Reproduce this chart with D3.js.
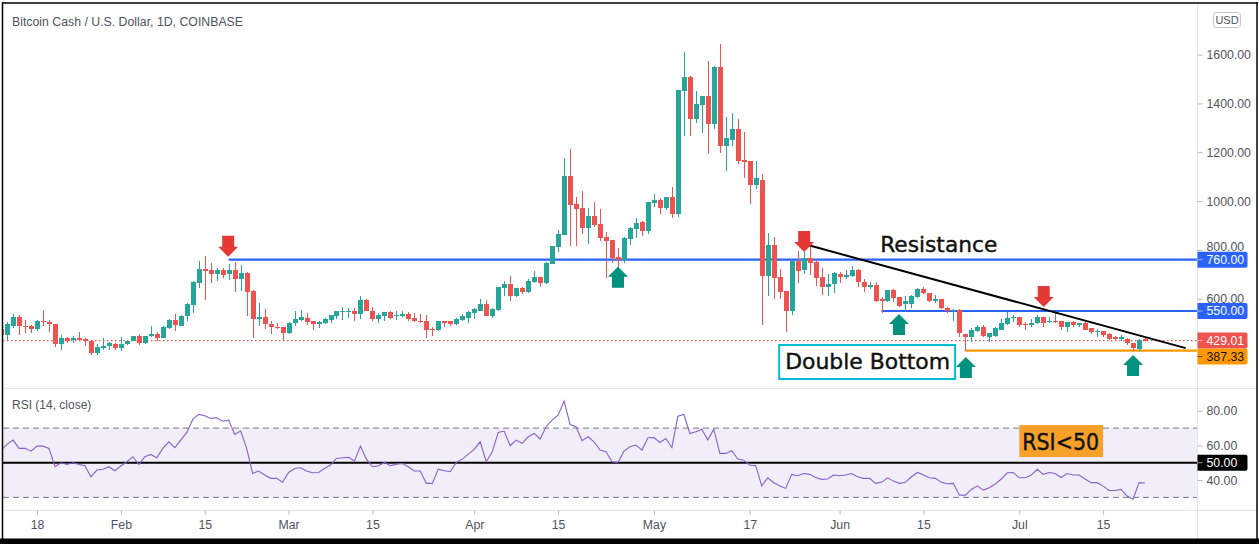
<!DOCTYPE html>
<html><head><meta charset="utf-8">
<script src="https://cdn.jsdelivr.net/npm/d3@7"></script>
<style>
html,body{margin:0;padding:0;background:#fff;overflow:hidden;}
svg{display:block;}
</style></head>
<body>
<svg id="c" width="1259" height="544"></svg>
<script>
// ---------- DATA ----------
const startDate = "2021-01-12"; // first daily candle
const opens = [
476,450,490,527,490,490,476,510,506,498,
414,441,430,441,436,429,377,400,406,415,
398,413,426,449,418,446,457,441,482,514,
490,528,574,666,721,718,703,718,703,718,
679,707,632,516,527,498,486,486,459,502,
515,523,507,496,499,515,528,545,545,552,
536,596,552,519,528,544,529,529,536,523,
511,511,475,471,507,507,495,515,523,540,
552,580,528,556,645,661,613,645,629,669,
690,665,742,811,860,1103,990,973,888,941,
908,852,840,771,759,844,885,913,877,993,
1003,972,1015,947,1451,1508,1337,1394,1430,1316,
1548,1227,1251,1296,1170,1166,1064,1088,693,820,
689,632,551,756,719,768,752,691,650,660,
701,688,694,718,670,647,656,599,592,636,
606,578,578,609,639,625,589,599,561,551,
554,456,442,469,486,445,447,472,497,521,
524,497,492,499,524,505,510,510,486,505,
492,499,479,464,468,456,442,434,434,417,
393,434];
const highs = [
478,503,539,533,514,494,514,555,514,498,
453,442,446,465,438,429,414,441,422,417,
444,433,449,457,449,490,463,490,517,539,
535,582,673,755,775,745,726,726,742,750,
738,710,636,581,558,509,501,486,506,552,
556,540,507,509,523,532,548,568,564,561,
610,600,568,540,544,548,552,552,544,540,
536,532,483,511,511,507,523,536,548,564,
600,596,564,649,673,694,645,649,682,714,
690,750,815,880,1176,1213,1018,1042,973,998,
969,872,840,807,852,892,931,917,995,1031,
1011,1015,1056,1455,1610,1512,1451,1430,1573,1555,
1642,1345,1361,1337,1284,1166,1166,1113,869,852,
722,632,760,797,793,813,760,725,700,708,
708,718,734,720,679,667,667,609,636,639,
609,611,615,643,649,625,615,599,565,559,
557,456,479,492,492,461,483,516,547,533,
524,506,516,533,527,524,547,510,505,507,
502,505,479,475,469,458,447,452,438,420,
434,438];
const lows = [
433,433,480,450,460,460,468,487,465,403,
389,419,419,427,408,369,369,392,389,389,
385,410,426,410,415,444,429,438,476,468,
487,508,541,646,596,666,674,687,677,626,
632,529,441,487,476,455,476,426,455,490,
509,492,471,479,496,499,519,515,523,507,
519,548,511,499,507,519,515,526,511,503,
499,438,448,467,483,487,491,507,499,519,
548,528,523,552,613,592,609,621,625,665,
649,661,742,791,860,815,815,864,823,896,
836,686,747,714,747,819,848,858,864,976,
946,962,931,935,1268,1268,1320,1280,1194,1296,
1198,1125,1227,1154,1093,987,1048,494,612,600,
600,466,535,666,703,699,654,615,613,622,
663,680,690,649,629,640,588,540,588,588,
565,544,561,602,619,585,581,557,543,510,
445,387.33,424,465,445,424,442,472,492,506,
483,472,486,495,483,499,499,472,465,486,
486,472,456,442,445,431,428,428,411,385,
387,427];
const closes = [
453,498,527,487,486,476,510,503,497,414,
441,429,441,430,429,376,403,408,419,398,
413,427,449,418,449,457,441,484,514,491,
531,579,670,721,714,703,718,699,718,679,
707,626,516,527,498,483,482,459,502,519,
525,505,495,505,519,532,548,548,552,536,
596,548,519,532,544,523,533,536,519,507,
507,471,471,507,499,495,519,528,544,560,
580,528,560,649,661,613,645,629,673,690,
665,746,815,864,1103,986,969,888,941,904,
848,836,767,759,848,888,911,877,995,1003,
972,1015,947,1455,1508,1337,1398,1430,1316,1548,
1227,1259,1296,1166,1162,1064,1093,693,820,685,
628,551,756,715,768,748,687,650,662,704,
688,697,718,670,647,656,592,592,636,602,
572,592,611,639,625,589,599,561,551,556,
458,442,472,486,447,458,479,502,521,527,
492,492,501,524,502,510,507,483,505,492,
499,472,462,468,452,434,434,442,417,397,
431,429.01];
const rsiValues = [
57.3,60.6,63.1,58.3,58.3,56.7,59.6,59.6,58.3,47.7,
50.0,49.0,50.0,49.0,48.3,41.9,45.8,46.2,47.7,45.4,
48.1,50.6,53.5,49.0,53.5,54.8,52.9,58.3,62.1,58.7,
63.1,67.5,75.0,77.9,77.1,75.6,76.0,74.0,74.6,66.3,
68.3,58.3,43.8,45.2,42.9,41.0,41.0,38.7,44.4,46.7,
47.1,45.2,44.2,44.4,46.7,48.7,52.5,52.9,53.1,51.0,
59.6,52.1,47.7,48.3,50.2,48.3,49.2,49.6,47.7,45.2,
45.2,38.1,38.1,46.3,45.4,44.8,50.2,52.1,55.0,57.7,
62.1,50.6,56.3,67.5,68.3,59.8,63.1,61.2,65.0,66.9,
63.7,70.8,74.6,77.5,85.6,72.1,70.8,62.7,65.0,62.1,
57.3,56.3,50.6,50.2,56.7,59.2,60.2,57.3,64.4,64.6,
61.7,64.0,58.7,76.9,77.9,66.9,67.9,69.4,63.1,69.4,
55.4,55.4,56.9,52.1,51.5,48.7,48.3,36.7,41.3,38.5,
36.7,35.2,43.3,42.5,43.8,43.3,41.5,40.4,40.6,42.9,
42.5,42.9,43.8,41.9,41.0,41.0,38.1,38.7,41.3,39.4,
38.1,38.7,41.9,44.4,42.9,41.3,41.0,38.7,37.9,38.1,
31.3,31.3,34.6,36.7,34.2,35.6,37.7,40.6,44.2,44.4,
41.3,41.3,42.9,46.2,43.3,44.4,43.8,41.5,43.8,42.9,
42.9,40.6,38.5,38.5,36.5,34.0,34.0,34.6,30.8,29.0,
38.5,38.3];

const xTickDates  = ["2021-01-18","2021-02-01","2021-02-15","2021-03-01","2021-03-15","2021-04-01","2021-04-15","2021-05-01","2021-05-17","2021-06-01","2021-06-15","2021-07-01","2021-07-15"];
const xTickLabels = ["18","Feb","15","Mar","15","Apr","15","May","17","Jun","15","Jul","15"];
const priceTicks = [600, 800, 1000, 1200, 1400, 1600];
const rsiTicks = [40, 60, 80];
const lastPrice = 429.01;

// horizontal levels drawn on the chart
const levelPrices = [760, 550, 387.33];
const levelStarts = ["2021-02-19T00:00Z", "2021-06-08T00:00Z", "2021-06-22T00:00Z"];
// trend line (resistance)
const trendDates  = ["2021-05-26T17:00Z", "2021-07-28T19:00Z"];
const trendPrices = [820, 398];
// arrow markers
const arrowDates  = ["2021-02-18T22:00Z","2021-05-26T02:00Z","2021-07-05T02:00Z","2021-04-25T00:00Z","2021-06-10T22:00Z","2021-06-22T02:00Z","2021-07-20T00:00Z"];
const arrowPrices = [772, 792, 566, 731, 538, 362, 370];
const arrowDirs   = ["down","down","down","up","up","up","up"];
// text notes
const noteTexts = ["Resistance", "Double Bottom", "RSI<50"];

// ---------- SETUP ----------
const svg = d3.select("#c");
const parseDay = d3.utcParse("%Y-%m-%d");
const t0 = parseDay(startDate);
const candles = opens.map((o, i) => ({date: d3.utcDay.offset(t0, i), o, h: highs[i], l: lows[i], c: closes[i], rsi: rsiValues[i]}));

const PL = 3, PR = 1197.5, MAIN_T = 3, MAIN_B = 388, RSI_T = 388, RSI_B = 510.5;
const x = d3.scaleUtc().domain([parseDay("2021-01-12"), parseDay("2021-07-15")]).range([1.1, 1103.1]);
const y = d3.scaleLinear().domain([0, 1600]).range([445.3, 54.6]);
const ry = d3.scaleLinear().domain([30, 70]).range([497.4, 428.1]);

const UP = "#26a69a", DOWN = "#ef5350";
const AXIS_TXT = "#50535e", FONT = "'Liberation Sans', Arial, sans-serif";
const NOTE_FONT = "'DejaVu Sans', Verdana, sans-serif";

svg.append("rect").attr("width", 1259).attr("height", 544).attr("fill", "#fff");

const defs = svg.append("defs");
defs.append("clipPath").attr("id", "clipMain").append("rect")
  .attr("x", PL).attr("y", MAIN_T).attr("width", PR - PL).attr("height", MAIN_B - MAIN_T);
defs.append("clipPath").attr("id", "clipRsi").append("rect")
  .attr("x", PL).attr("y", RSI_T).attr("width", PR - PL).attr("height", RSI_B - RSI_T);

// ---------- RSI PANE ----------
const rsiG = svg.append("g").attr("clip-path", "url(#clipRsi)");
rsiG.append("rect").attr("x", PL).attr("width", PR - PL)
  .attr("y", ry(70)).attr("height", ry(30) - ry(70)).attr("fill", "rgba(126,87,194,0.1)");
[70, 30].forEach(v => rsiG.append("line").attr("x1", PL).attr("x2", PR)
  .attr("y1", ry(v)).attr("y2", ry(v)).attr("stroke", "#787b86").attr("stroke-width", 1)
  .attr("stroke-dasharray", "6,4"));
rsiG.append("line").attr("x1", PL).attr("x2", PR).attr("y1", ry(50)).attr("y2", ry(50))
  .attr("stroke", "#000").attr("stroke-width", 2.2);
rsiG.append("path").datum(candles)
  .attr("d", d3.line().x(d => x(d.date)).y(d => ry(d.rsi)))
  .attr("fill", "none").attr("stroke", "#8462cc").attr("stroke-width", 1.1);

svg.append("text").attr("x", 12).attr("y", 409).text("RSI (14, close)")
  .attr("font-family", FONT).attr("font-size", 12).attr("fill", AXIS_TXT);

// RSI<50 note
const rsiNoteX0 = x(parseDay("2021-07-01")), rsiNoteX1 = x(parseDay("2021-07-15"));
svg.append("rect").attr("x", rsiNoteX0).attr("y", ry(71.75))
  .attr("width", rsiNoteX1 - rsiNoteX0).attr("height", ry(53.3) - ry(71.75)).attr("fill", "#f7a02a");
svg.append("text").attr("x", rsiNoteX0 + 3).attr("y", ry(57.6)).text(noteTexts[2])
  .attr("font-family", NOTE_FONT).attr("font-size", 23).attr("fill", "#111")
  .attr("stroke", "#111").attr("stroke-width", 0.4)
  .attr("textLength", rsiNoteX1 - rsiNoteX0 - 7).attr("lengthAdjust", "spacingAndGlyphs");

// ---------- MAIN PANE ----------
const mainG = svg.append("g").attr("clip-path", "url(#clipMain)");

// last price dotted line
mainG.append("line").attr("x1", PL).attr("x2", PR).attr("y1", y(lastPrice)).attr("y2", y(lastPrice))
  .attr("stroke", DOWN).attr("stroke-width", 1.2).attr("stroke-dasharray", "1.5,2.5");

// level lines
const levelColors = ["#2962ff", "#2962ff", "#ff9800"];
levelPrices.forEach((p, i) => {
  mainG.append("line").attr("x1", x(d3.isoParse(levelStarts[i]))).attr("x2", PR)
    .attr("y1", y(p)).attr("y2", y(p)).attr("stroke", levelColors[i]).attr("stroke-width", 2.2);
});

// candles
const bw = 4.2;
const cg = mainG.append("g").attr("shape-rendering", "crispEdges");
cg.selectAll("line.wick").data(candles).join("line").attr("class", "wick")
  .attr("x1", d => Math.round(x(d.date)) + 0.5).attr("x2", d => Math.round(x(d.date)) + 0.5)
  .attr("y1", d => y(d.h)).attr("y2", d => y(d.l))
  .attr("stroke", d => d.c >= d.o ? UP : DOWN).attr("stroke-width", 1);
cg.selectAll("rect.body").data(candles).join("rect").attr("class", "body")
  .attr("x", d => Math.round(x(d.date)) + 0.5 - bw / 2)
  .attr("width", bw)
  .attr("y", d => y(Math.max(d.o, d.c)))
  .attr("height", d => Math.max(1, Math.abs(y(d.o) - y(d.c))))
  .attr("fill", d => d.c >= d.o ? UP : DOWN);

// trend line
mainG.append("line")
  .attr("x1", x(d3.isoParse(trendDates[0]))).attr("y1", y(trendPrices[0]))
  .attr("x2", x(d3.isoParse(trendDates[1]))).attr("y2", y(trendPrices[1]))
  .attr("stroke", "#000").attr("stroke-width", 2);

// arrows
function arrowPath(dir) {
  // tip at (0,0)
  const s = dir === "up" ? 1 : -1;
  return `M0,0 L10,${10*s} L6,${10*s} L6,${21*s} L-6,${21*s} L-6,${10*s} L-10,${10*s} Z`;
}
arrowDates.forEach((d, i) => {
  mainG.append("path").attr("d", arrowPath(arrowDirs[i]))
    .attr("transform", `translate(${x(d3.isoParse(d))},${y(arrowPrices[i])})`)
    .attr("fill", arrowDirs[i] === "up" ? "#00917f" : "#e53935");
});

// Resistance note
mainG.append("text").attr("x", x(d3.isoParse("2021-06-07T19:00Z"))).attr("y", y(793)).text(noteTexts[0])
  .attr("font-family", NOTE_FONT).attr("font-size", 21).attr("fill", "#111")
  .attr("stroke", "#111").attr("stroke-width", 0.4)
  .attr("textLength", 117).attr("lengthAdjust", "spacingAndGlyphs");

// Double Bottom note
const dbX0 = x(d3.isoParse("2021-05-21T22:00Z")), dbX1 = x(d3.isoParse("2021-06-20T07:00Z"));
mainG.append("rect").attr("x", dbX0).attr("y", y(410.7)).attr("width", dbX1 - dbX0)
  .attr("height", y(271.5) - y(410.7)).attr("fill", "#fff").attr("stroke", "#00bcd4").attr("stroke-width", 2);
mainG.append("text").attr("x", dbX0 + 6).attr("y", y(311)).text(noteTexts[1])
  .attr("font-family", NOTE_FONT).attr("font-size", 21).attr("fill", "#111")
  .attr("stroke", "#111").attr("stroke-width", 0.4)
  .attr("textLength", dbX1 - dbX0 - 11).attr("lengthAdjust", "spacingAndGlyphs");

// title
svg.append("text").attr("x", 12).attr("y", 26).text("Bitcoin Cash / U.S. Dollar, 1D, COINBASE")
  .attr("font-family", FONT).attr("font-size", 12.3).attr("fill", AXIS_TXT);

// ---------- SEPARATORS ----------
const sepColor = "#e0e3eb";
svg.append("line").attr("x1", PL).attr("x2", 1257).attr("y1", MAIN_B + 0.5).attr("y2", MAIN_B + 0.5).attr("stroke", sepColor);
svg.append("line").attr("x1", PL).attr("x2", 1257).attr("y1", RSI_B).attr("y2", RSI_B).attr("stroke", sepColor);
svg.append("line").attr("x1", PR).attr("x2", PR).attr("y1", 3).attr("y2", 538).attr("stroke", sepColor);

// ---------- AXES ----------
function styleAxis(g) {
  g.select(".domain").remove();
  g.selectAll(".tick line").attr("stroke", "#b2b5be");
  g.selectAll(".tick text").attr("fill", AXIS_TXT).attr("font-family", FONT).attr("font-size", 12.3);
}
svg.append("g").attr("transform", `translate(${PR},0)`)
  .call(d3.axisRight(y).tickValues(priceTicks).tickSize(5).tickPadding(4).tickFormat(d3.format(".2f")))
  .call(styleAxis)
  .call(g => g.selectAll(".tick text").filter(d => d === 800).attr("y", -3.5));
svg.append("g").attr("transform", `translate(${PR},0)`)
  .call(d3.axisRight(ry).tickValues(rsiTicks).tickSize(5).tickPadding(4).tickFormat(d3.format(".2f")))
  .call(styleAxis);
svg.append("g").attr("transform", `translate(0,${RSI_B})`)
  .call(d3.axisBottom(x).tickValues(xTickDates.map(parseDay)).tickSize(4).tickPadding(6)
    .tickFormat((d, i) => xTickLabels[i]))
  .call(styleAxis);

// price label boxes on the scale
function labelBox(yc, txt, fill, color) {
  const g = svg.append("g");
  g.append("path").attr("d", `M${PR},${yc-8} H${PR+48} Q${PR+50},${yc-8} ${PR+50},${yc-6} V${yc+6} Q${PR+50},${yc+8} ${PR+48},${yc+8} H${PR} Z`)
    .attr("fill", fill);
  g.append("line").attr("x1", PR).attr("x2", PR + 5).attr("y1", yc).attr("y2", yc).attr("stroke", color).attr("stroke-opacity", 0.6);
  g.append("text").attr("x", PR + 9).attr("y", yc).attr("dy", "0.36em").text(txt)
    .attr("fill", color).attr("font-family", FONT).attr("font-size", 12.3);
}
labelBox(y(levelPrices[0]), d3.format(".2f")(levelPrices[0]), "#2962ff", "#fff");
labelBox(y(levelPrices[1]), d3.format(".2f")(levelPrices[1]), "#2962ff", "#fff");
labelBox(y(lastPrice), d3.format(".2f")(lastPrice), "#ef5350", "#fff");
labelBox(y(lastPrice) + 16, d3.format(".2f")(levelPrices[2]), "#ff9800", "#111");
labelBox(ry(50), "50.00", "#000", "#fff");

// USD box
svg.append("rect").attr("x", 1213.5).attr("y", 12.5).attr("width", 27).attr("height", 15).attr("rx", 3)
  .attr("fill", "#fff").attr("stroke", "#c3c6ce");
svg.append("text").attr("x", 1227).attr("y", 20).attr("dy", "0.36em").attr("text-anchor", "middle").text("USD")
  .attr("fill", AXIS_TXT).attr("font-family", FONT).attr("font-size", 11);

// ---------- FRAME ----------
svg.append("line").attr("x1", 2).attr("x2", 1258).attr("y1", 3).attr("y2", 3).attr("stroke", "#000").attr("stroke-width", 1.5);
svg.append("line").attr("x1", 2.5).attr("x2", 2.5).attr("y1", 2).attr("y2", 540).attr("stroke", "#000").attr("stroke-width", 1.5);
svg.append("line").attr("x1", 1257).attr("x2", 1257).attr("y1", 2).attr("y2", 540).attr("stroke", "#000").attr("stroke-width", 1.5);
svg.append("rect").attr("x", 0).attr("y", 538.5).attr("width", 1259).attr("height", 6).attr("fill", "#000");
</script>
</body></html>
